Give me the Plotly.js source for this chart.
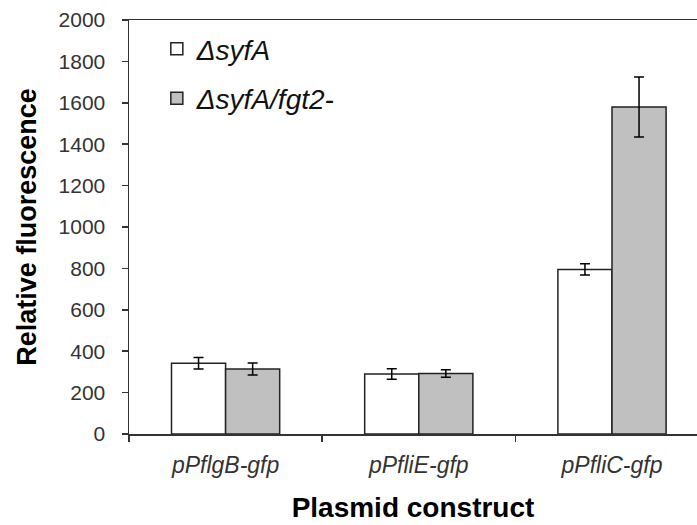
<!DOCTYPE html>
<html><head><meta charset="utf-8">
<script src="https://cdn.plot.ly/plotly-3.0.1.min.js"></script>
<style>html,body{margin:0;padding:0;background:#fff}</style>
</head><body>
<div id="chart" style="width:697px;height:525px"></div>
<script>
const categories = ["pPflgB-gfp", "pPfliE-gfp", "pPfliC-gfp"];
const seriesNames = ["\u0394syfA", "\u0394syfA/fgt2-"];
const syfA = [342, 290, 795];
const syfAErr = [28, 25, 27];
const syfAfgt2 = [314, 292, 1580];
const syfAfgt2Err = [29, 18, 145];
const yTicks = [0, 200, 400, 600, 800, 1000, 1200, 1400, 1600, 1800, 2000];

const FONT = "Arial, 'Liberation Sans', sans-serif";
const catLabels = categories.map(c => "<i>" + c + "</i>");

const traces = [
  {type: "bar", name: "<i>" + seriesNames[0] + "</i>", x: catLabels, y: syfA,
   legendgroup: "a",
   marker: {color: "#ffffff", line: {color: "#222", width: 1.5}},
   error_y: {type: "data", array: syfAErr, visible: true, color: "#000", thickness: 1.5, width: 5}},
  {type: "bar", name: "<i>" + seriesNames[1] + "</i>", x: catLabels, y: syfAfgt2,
   legendgroup: "b",
   marker: {color: "#c0c0c0", line: {color: "#222", width: 1.5}},
   error_y: {type: "data", array: syfAfgt2Err, visible: true, color: "#000", thickness: 1.5, width: 5}}
];

const layout = {
  width: 697, height: 525,
  margin: {l: 129, r: 0, t: 20, b: 91},
  paper_bgcolor: "#fff", plot_bgcolor: "#fff",
  font: {family: FONT, color: "#222"},
  barmode: "group", bargap: 0.44, bargroupgap: 0,
  showlegend: true,
  legend: {x: 0.049, y: 0.99, xanchor: "left", yanchor: "top",
           bgcolor: "rgba(0,0,0,0)", font: {size: 28, family: FONT, color: "#111"},
           traceorder: "grouped", tracegroupgap: 10},
  xaxis: {
    range: [-0.5, 2.44], type: "category",
    showline: true, linecolor: "#333", linewidth: 1.5, mirror: true,
    ticks: "outside", tickson: "boundaries", ticklen: 6, tickcolor: "#333", tickwidth: 1.5,
    showgrid: false, zeroline: false,
    tickfont: {size: 23, family: FONT, color: "#333"},
    ticklabelstandoff: 10,
    title: {text: "<b>Plasmid construct</b>", font: {size: 28, family: FONT, color: "#000"}, standoff: 20}
  },
  yaxis: {
    range: [0, 2000], tickvals: yTicks, ticktext: yTicks.map(String),
    showline: true, linecolor: "#333", linewidth: 1.5,
    ticks: "outside", ticklen: 6, tickcolor: "#333", tickwidth: 1.5,
    showgrid: false, zeroline: false,
    tickfont: {size: 21, family: FONT, color: "#333"},
    ticklabelstandoff: 12,
    title: {text: "<b>Relative fluorescence</b>", font: {size: 27, family: FONT, color: "#000"}, standoff: 14}
  }
};

Plotly.newPlot("chart", traces, layout, {displayModeBar: false, staticPlot: true});
</script>
</body></html>
